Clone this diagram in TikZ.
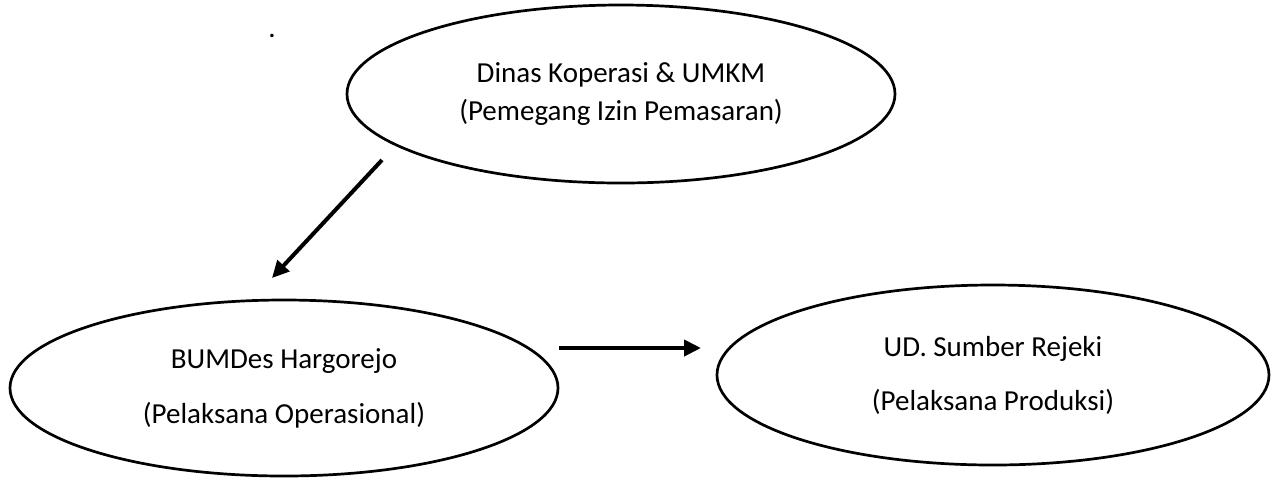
\documentclass[tikz,border=0pt]{standalone}
\usepackage{fontspec}
\setmainfont{Carlito}
\usetikzlibrary{shapes.geometric,arrows.meta}
\tikzset{
  oval/.style={draw=black, line width=1.35pt, ellipse, inner sep=0pt, align=center,
    font=\fontsize{14.5pt}{19pt}\selectfont},
  flow/.style={line width=2pt, -{Triangle[length=8.5pt,width=8pt]}}
}
\begin{document}
\begin{tikzpicture}[x=0.5pt,y=-0.5pt]
\useasboundingbox (0,0) rectangle (1271,479);
\node[oval, minimum width=274pt, minimum height=89pt] (dinas) at (621,94)
  {Dinas Koperasi \& UMKM\\(Pemegang Izin Pemasaran)};
\node[oval, minimum width=274pt, minimum height=88pt] (bumdes) at (284,388)
  {BUMDes Hargorejo\\[8.5pt](Pelaksana Operasional)};
\node[oval, minimum width=276pt, minimum height=90pt] (ud) at (993,375)
  {UD. Sumber Rejeki\\[8pt](Pelaksana Produksi)};
\node[font=\fontsize{14.5pt}{19pt}\selectfont, inner sep=0pt] (dot) at (272,36) {.};
\coordinate (a1) at (382,160);
\coordinate (a2) at (272,278);
\coordinate (b1) at (559,348);
\coordinate (b2) at (701,348);
\draw[flow] (a1) -- (a2);
\draw[flow] (b1) -- (b2);
\end{tikzpicture}
\end{document}
